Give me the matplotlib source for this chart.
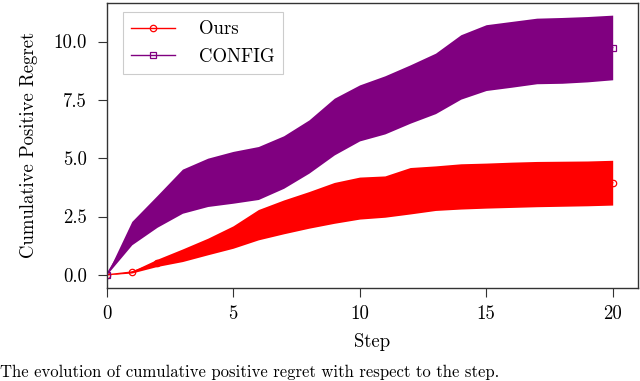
import matplotlib
matplotlib.use("Agg")
import matplotlib.pyplot as plt

plt.rcParams['font.family'] = ['cmr10', 'DejaVu Serif']
plt.rcParams['mathtext.fontset'] = 'cm'
plt.rcParams['axes.formatter.use_mathtext'] = True

steps = list(range(21))

ours_mean = [0.00, 0.12, 0.52, 0.84, 1.22, 1.62, 2.15, 2.49, 2.79, 3.09, 3.29,
             3.36, 3.61, 3.72, 3.79, 3.83, 3.86, 3.89, 3.91, 3.92, 3.95]
ours_lo = [0.00, 0.08, 0.36, 0.57, 0.86, 1.14, 1.50, 1.76, 2.00, 2.21, 2.39,
           2.47, 2.61, 2.76, 2.82, 2.86, 2.89, 2.92, 2.94, 2.96, 2.99]
ours_hi = [0.00, 0.16, 0.67, 1.11, 1.57, 2.10, 2.80, 3.21, 3.57, 3.96, 4.19,
           4.24, 4.60, 4.67, 4.76, 4.79, 4.83, 4.86, 4.87, 4.88, 4.91]

config_mean = [0.00, 1.79, 2.72, 3.59, 3.97, 4.18, 4.37, 4.84, 5.50, 6.36, 6.94,
               7.29, 7.75, 8.21, 8.91, 9.31, 9.45, 9.60, 9.62, 9.67, 9.74]
config_lo = [0.00, 1.29, 2.04, 2.64, 2.93, 3.07, 3.23, 3.71, 4.36, 5.14, 5.74,
             6.04, 6.50, 6.91, 7.53, 7.90, 8.04, 8.19, 8.21, 8.27, 8.36]
config_hi = [0.00, 2.29, 3.40, 4.53, 5.00, 5.29, 5.50, 5.96, 6.64, 7.57, 8.14,
             8.53, 9.00, 9.50, 10.29, 10.72, 10.86, 11.00, 11.03, 11.07, 11.13]

x_ticks = [0, 5, 10, 15, 20]
y_ticks = [0.0, 2.5, 5.0, 7.5, 10.0]

caption = 'The evolution of cumulative positive regret with respect to the step.'

W, H = 640, 381
fig = plt.figure(figsize=(6.4, 3.81), dpi=100)
ax_l, ax_r, ax_t, ax_b = 106.5, 638, 3, 287.7
ax = fig.add_axes([ax_l / W, 1 - ax_b / H, (ax_r - ax_l) / W, (ax_b - ax_t) / H])

ax.plot(steps, ours_mean, color='red', lw=1.0, marker='o', markersize=4.6,
        markeredgewidth=0.9, markerfacecolor='none', markeredgecolor='red',
        label='Ours', zorder=2)
ax.plot(steps, config_mean, color='purple', lw=1.0, marker='s', markersize=4.6,
        markeredgewidth=0.9, markerfacecolor='none', markeredgecolor='purple',
        label='CONFIG', zorder=2)
ax.fill_between(steps, ours_lo, ours_hi, color='red', lw=0, zorder=3)
ax.fill_between(steps, config_lo, config_hi, color='purple', lw=0, zorder=3)

ax.set_xlim(0, 21)
ax.set_ylim(-0.55, 11.65)
ax.set_xticks(x_ticks)
ax.set_yticks(y_ticks)
ax.set_yticklabels([f"{v:.1f}" for v in y_ticks])
ax.set_xticklabels([str(v) for v in x_ticks])

for s in ax.spines.values():
    s.set_color('#333333')
    s.set_linewidth(1.0)
ax.tick_params(direction='out', length=6.5, width=0.8, color='#333333',
               labelsize=13.5)
ax.tick_params(axis='y', pad=7.5)
ax.tick_params(axis='x', pad=6)

ax.set_xlabel('Step', fontsize=13.5, labelpad=7)
ax.set_ylabel('Cumulative Positive Regret', fontsize=13.5, labelpad=11)

leg = ax.legend(loc='upper left', fontsize=13.5, fancybox=False, framealpha=1,
                edgecolor='#cccccc', handlelength=2.3, handletextpad=1.3,
                borderaxespad=0, borderpad=0.45,
                bbox_to_anchor=((123 - ax_l) / (ax_r - ax_l), 1 - (12 - ax_t) / (ax_b - ax_t)))
leg.get_frame().set_linewidth(0.8)

fig.text(0.0, 1.5 / H, caption, fontsize=12, ha='left', va='bottom')

fig.savefig('out.png', dpi=100)
